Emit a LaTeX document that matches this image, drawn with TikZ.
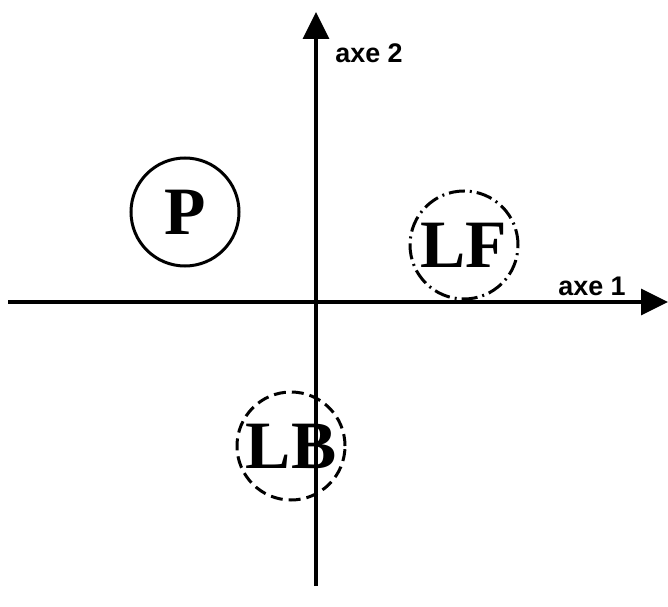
\documentclass[tikz,border=0pt]{standalone}
\usepackage{fontspec}
\setmainfont{Liberation Serif}
\newfontfamily\axisfont{Liberation Sans}
\usetikzlibrary{arrows.meta,positioning}

\begin{document}
\begin{tikzpicture}[x=1bp, y=-1bp,
        grp/.style={circle, draw=black, line width=3bp, minimum size=108bp,
                    inner sep=0pt, font=\fontsize{68}{68}\selectfont\bfseries},
        axis/.style={line width=3.5bp, -{Triangle[length=27bp, width=26bp]}},
        axlbl/.style={font=\axisfont\fontsize{27}{27}\selectfont\bfseries}
      ]
        \useasboundingbox (0,0) rectangle (668,607);
        % Axes
        \coordinate (xstart) at (8,302);
        \coordinate (xend)   at (668,302);
        \coordinate (ystart) at (316,586);
        \coordinate (yend)   at (316,12);
        \draw[axis] (xstart) -- (xend);
        \draw[axis] (ystart) -- (yend);
        \node[axlbl] (ax1) at (592,286) {axe 1};
        \node[axlbl] (ax2) at (369,53) {axe 2};
        % Groups
        \node[grp] (P)  at (185,212) {P};
        \node[grp, dash pattern=on 16bp off 5bp on 2bp off 5bp] (LF) at (464,245) {LF};
        \node[grp, dash pattern=on 12bp off 6bp] (LB) at (291,446) {LB};
      \end{tikzpicture}
\end{document}
